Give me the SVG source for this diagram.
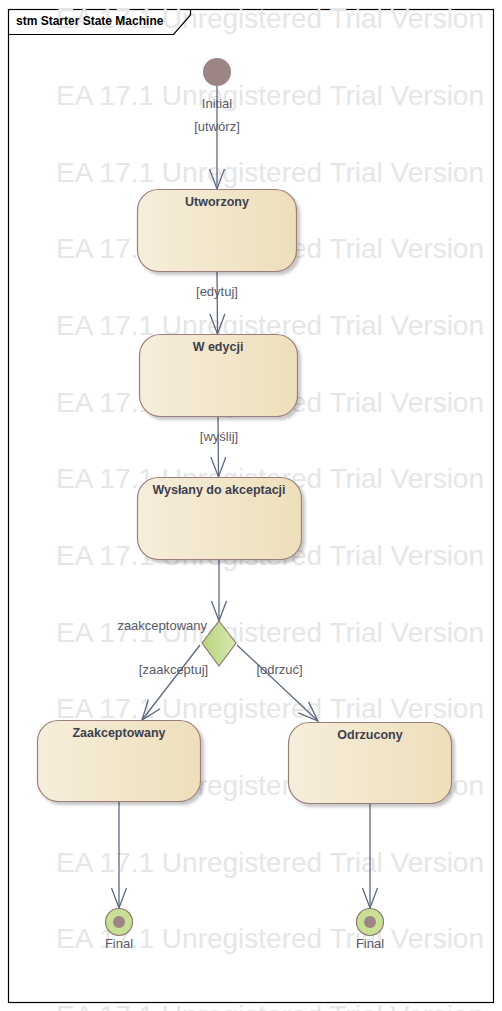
<svg xmlns="http://www.w3.org/2000/svg" width="502" height="1011" viewBox="0 0 502 1011">
<defs>
<linearGradient id="stateFill" x1="0" y1="0" x2="1" y2="0">
<stop offset="0" stop-color="#f6eedc"/>
<stop offset="1" stop-color="#eedfba"/>
</linearGradient>
<linearGradient id="diaFill" x1="0" y1="0" x2="1" y2="0">
<stop offset="0" stop-color="#b8d37c"/>
<stop offset="1" stop-color="#d8e9b2"/>
</linearGradient>
<filter id="shadow" x="-10%" y="-10%" width="130%" height="130%">
<feDropShadow dx="3" dy="3" stdDeviation="1.5" flood-color="#000" flood-opacity="0.22"/>
</filter>
<marker id="arrow" markerUnits="userSpaceOnUse" markerWidth="24" markerHeight="20" refX="0" refY="0" viewBox="-22 -10 24 20" orient="auto" overflow="visible">
<path d="M -20 -7.5 L 0 0 L -20 7.5" fill="none" stroke="#5c6882" stroke-width="1.3"/>
</marker>
</defs>
<style>
.wm{font-family:"Liberation Sans",Arial,sans-serif;font-size:28px;fill:#e6e6e6}
.state{fill:url(#stateFill);stroke:#9c7f7c;stroke-width:1.2;filter:url(#shadow)}
.title{font-family:"Liberation Sans",Arial,sans-serif;font-size:12.5px;font-weight:bold;fill:#3d3f4f;text-anchor:middle}
.lbl{font-family:"Liberation Sans",Arial,sans-serif;font-size:13px;fill:#5a5a6a}
.mid{text-anchor:middle}
.conn{fill:none;stroke:#5c6882;stroke-width:1.3;marker-end:url(#arrow)}
.pseudo{fill:#9c8584}
</style>
<rect x="0" y="0" width="502" height="1011" fill="#ffffff"/>
<g id="frame">
<rect x="8.5" y="9.5" width="485" height="993" fill="#ffffff" stroke="#000" stroke-width="1.2"/>
</g>
<g id="watermark">
<text class="wm" x="56" y="28">EA 17.1 Unregistered Trial Version</text>
<text class="wm" x="56" y="105">EA 17.1 Unregistered Trial Version</text>
<text class="wm" x="56" y="182">EA 17.1 Unregistered Trial Version</text>
<text class="wm" x="56" y="258">EA 17.1 Unregistered Trial Version</text>
<text class="wm" x="56" y="335">EA 17.1 Unregistered Trial Version</text>
<text class="wm" x="56" y="412">EA 17.1 Unregistered Trial Version</text>
<text class="wm" x="56" y="488">EA 17.1 Unregistered Trial Version</text>
<text class="wm" x="56" y="565">EA 17.1 Unregistered Trial Version</text>
<text class="wm" x="56" y="642">EA 17.1 Unregistered Trial Version</text>
<text class="wm" x="56" y="718">EA 17.1 Unregistered Trial Version</text>
<text class="wm" x="56" y="795">EA 17.1 Unregistered Trial Version</text>
<text class="wm" x="56" y="872">EA 17.1 Unregistered Trial Version</text>
<text class="wm" x="56" y="948">EA 17.1 Unregistered Trial Version</text>
<text class="wm" x="56" y="1025">EA 17.1 Unregistered Trial Version</text>
</g>
<g id="frame-header">
<path d="M 8.5 34.5 L 173.5 34.5 L 190.5 15 L 190.5 9.5" fill="none" stroke="#000" stroke-width="1.2"/>
<text x="16" y="25" font-family="'Liberation Sans',Arial,sans-serif" font-size="12" font-weight="bold" fill="#000">stm Starter State Machine</text>
</g>
<g id="connectors">
<line class="conn" x1="217" y1="86" x2="217" y2="189"/>
<line class="conn" x1="217" y1="271" x2="217.5" y2="334"/>
<line class="conn" x1="218" y1="417" x2="218.5" y2="477"/>
<line class="conn" x1="219" y1="559" x2="219" y2="621"/>
<line class="conn" x1="200" y1="645" x2="142" y2="720"/>
<line class="conn" x1="237" y1="645" x2="318" y2="721"/>
<line class="conn" x1="119" y1="801" x2="119" y2="908"/>
<line class="conn" x1="370" y1="803" x2="370" y2="908"/>
<text class="lbl mid" x="217" y="131">[utwórz]</text>
<text class="lbl mid" x="217" y="296">[edytuj]</text>
<text class="lbl mid" x="219" y="441">[wyślij]</text>
<text class="lbl mid" x="173.5" y="674">[zaakceptuj]</text>
<text class="lbl mid" x="279.5" y="674">[odrzuć]</text>
</g>
<g id="initial">
<circle class="pseudo" cx="217" cy="72" r="14"/>
<text class="lbl mid" x="217" y="108">Initial</text>
</g>
<g id="utworzony">
<rect class="state" x="137.5" y="189.5" width="159" height="82" rx="21"/>
<text class="title" x="217" y="206">Utworzony</text>
</g>
<g id="w-edycji">
<rect class="state" x="139.5" y="334.5" width="158" height="82" rx="21"/>
<text class="title" x="218" y="351">W edycji</text>
</g>
<g id="wyslany">
<rect class="state" x="137.5" y="477.5" width="164" height="82" rx="21"/>
<text class="title" x="219" y="494">Wysłany do akceptacji</text>
</g>
<g id="decision">
<path d="M 219 621 L 236 643 L 219 666 L 202 643 Z" fill="url(#diaFill)" stroke="#8f7d6c" stroke-width="1.2"/>
<text class="lbl" x="207" y="630" text-anchor="end">zaakceptowany</text>
</g>
<g id="zaakceptowany">
<rect class="state" x="37.5" y="720.5" width="163" height="81" rx="21"/>
<text class="title" x="119" y="737">Zaakceptowany</text>
</g>
<g id="odrzucony">
<rect class="state" x="288.5" y="722.5" width="163" height="81" rx="21"/>
<text class="title" x="370" y="739">Odrzucony</text>
</g>
<g id="final-1">
<circle cx="119" cy="922" r="13.5" fill="#c8df95" stroke="#8f7d6c" stroke-width="1.2"/>
<circle class="pseudo" cx="119" cy="922" r="6"/>
<text class="lbl mid" x="119" y="948">Final</text>
</g>
<g id="final-2">
<circle cx="370" cy="922" r="13.5" fill="#c8df95" stroke="#8f7d6c" stroke-width="1.2"/>
<circle class="pseudo" cx="370" cy="922" r="6"/>
<text class="lbl mid" x="370" y="948">Final</text>
</g>
</svg>
